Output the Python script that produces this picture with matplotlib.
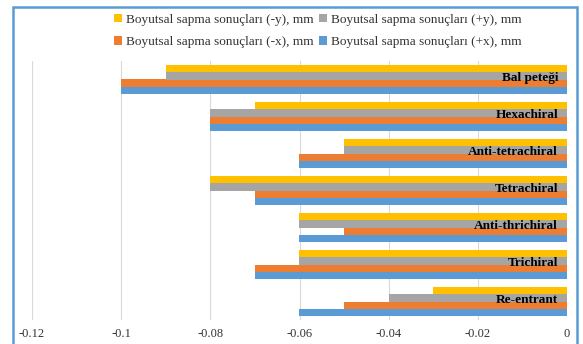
import numpy as np
import matplotlib.pyplot as plt
from matplotlib.patches import Rectangle
from matplotlib.ticker import FuncFormatter

plt.rcParams['font.family'] = ['Liberation Serif', 'DejaVu Serif']
plt.rcParams['axes.unicode_minus'] = False

categories = ['Re-entrant', 'Trichiral', 'Anti-thrichiral', 'Tetrachiral',
              'Anti-tetrachiral', 'Hexachiral', 'Bal peteği']

# dimensional deviation per direction, mm
plus_x = [-0.06, -0.07, -0.06, -0.07, -0.06, -0.08, -0.10]
minus_x = [-0.05, -0.07, -0.05, -0.07, -0.06, -0.08, -0.10]
plus_y = [-0.04, -0.06, -0.06, -0.08, -0.05, -0.08, -0.09]
minus_y = [-0.03, -0.06, -0.06, -0.08, -0.05, -0.07, -0.09]

series = [
    ('Boyutsal sapma sonuçları (+x), mm', plus_x, '#5B9BD5'),
    ('Boyutsal sapma sonuçları (-x), mm', minus_x, '#ED7D31'),
    ('Boyutsal sapma sonuçları (+y), mm', plus_y, '#A5A5A5'),
    ('Boyutsal sapma sonuçları (-y), mm', minus_y, '#FFC000'),
]

fig = plt.figure(figsize=(5.83, 3.44), dpi=100)
ax = fig.add_axes([32 / 583, 1 - 320 / 344, 535 / 583, 259 / 344])

y = np.arange(len(categories))
h = 0.19
handles = {}
for i, (name, vals, color) in enumerate(series):
    bars = ax.barh(y + (i - 1.5) * h, vals, height=h, color=color,
                   label=name, zorder=2)
    handles[name] = bars

for yi, cat in zip(y, categories):
    ax.text(-0.002, yi + 0.05, cat, ha='right', va='center',
            fontsize=9.5, fontweight='bold', zorder=3)

ax.set_xlim(-0.12, 0)
ax.set_ylim(-0.5, len(categories) - 0.5)
ax.set_xticks(np.arange(-0.12, 0.001, 0.02))
ax.xaxis.set_major_formatter(FuncFormatter(lambda v, p: '%g' % round(v, 2)))
ax.set_yticks([])
ax.tick_params(axis='x', length=0, labelsize=9, pad=6, colors='#333333')
ax.grid(axis='x', color='#D9D9D9', linewidth=0.8, zorder=0)
for s in ax.spines.values():
    s.set_visible(False)

order = ['Boyutsal sapma sonuçları (-y), mm', 'Boyutsal sapma sonuçları (-x), mm',
         'Boyutsal sapma sonuçları (+y), mm', 'Boyutsal sapma sonuçları (+x), mm']
fig.legend([handles[k] for k in order], order, ncol=2, loc='upper center',
           bbox_to_anchor=(0.545, 0.995), frameon=False, fontsize=9.5,
           handlelength=0.6, handleheight=0.6, handletextpad=0.3,
           columnspacing=0.4, labelspacing=0.8, labelcolor='#333333')

# chart frame
fig.patches.append(Rectangle((13 / 583, -0.05), (577 - 13) / 583, 1 - 7 / 344 + 0.05,
                             transform=fig.transFigure, fill=False,
                             edgecolor='#5B9BD5', linewidth=1.8))

fig.savefig('out.png', dpi=100)
